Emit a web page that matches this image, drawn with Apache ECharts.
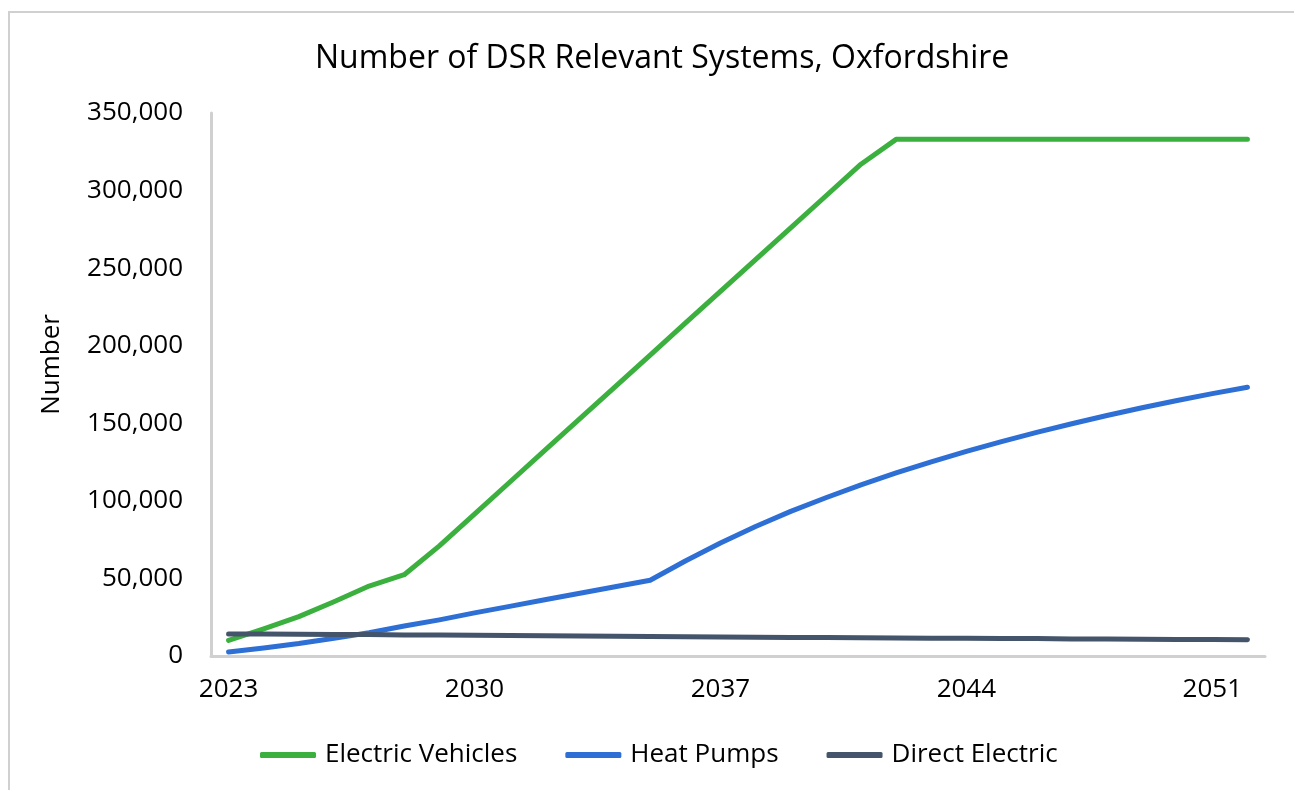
<!DOCTYPE html>
<html>
<head>
<meta charset="utf-8">
<style>
  html, body { margin: 0; padding: 0; background: #fff; }
  #chart-container { width: 1294px; height: 790px; }
</style>
<script src="https://cdn.jsdelivr.net/npm/echarts@6/dist/echarts.min.js"></script>
</head>
<body>
<div id="chart-container"></div>
<script>
var dom = document.getElementById("chart-container");
var myChart = echarts.init(dom, null, { renderer: "canvas" });

const years = [
  "2023", "2024", "2025", "2026", "2027", "2028", "2029", "2030", "2031", "2032",
  "2033", "2034", "2035", "2036", "2037", "2038", "2039", "2040", "2041", "2042",
  "2043", "2044", "2045", "2046", "2047", "2048", "2049", "2050", "2051", "2052",
];

const electricVehicles = [
  10000, 17500, 25400, 35000, 45100, 52400, 71000, 91500, 112000, 132500,
  153000, 173500, 194000, 214500, 235000, 255500, 276000, 296500, 317000, 333000,
  333000, 333000, 333000, 333000, 333000, 333000, 333000, 333000, 333000, 333000,
];

const heatPumps = [
  2600, 5200, 8000, 11500, 15000, 19300, 23300, 27800, 32000, 36300,
  40400, 44600, 48800, 61200, 72800, 83500, 93200, 102000, 110300, 118000,
  125200, 131900, 138200, 144100, 149700, 155000, 160000, 164700, 169100, 173200,
];

const directElectric = [
  14200, 14100, 14000, 13900, 13800, 13600, 13500, 13300, 13200, 13000,
  12900, 12700, 12600, 12400, 12300, 12100, 12000, 11900, 11800, 11600,
  11500, 11400, 11300, 11200, 11000, 10900, 10800, 10700, 10600, 10500,
];

const FONT = "Open Sans";

function lineSeries(name, data, color) {
  return {
    name: name,
    type: "line",
    data: data,
    symbol: "none",
    smooth: false,
    lineStyle: { width: 5, color: color, cap: "round", join: "round" },
    itemStyle: { color: color },
  };
}

var option = {
  backgroundColor: "#ffffff",
  animation: false,
  title: {
    text: "Number of DSR Relevant Systems, Oxfordshire",
    left: 310,
    top: 38,
    textStyle: { fontFamily: FONT, fontSize: 32, fontWeight: "normal", color: "#000" },
  },
  graphic: [
    {
      type: "rect",
      shape: { x: 9, y: 12, width: 1300, height: 800 },
      style: { fill: null, stroke: "#d0d0d0", lineWidth: 2 },
      silent: true,
    },
  ],
  legend: {
    bottom: 17,
    left: 255,
    icon: "roundRect",
    itemWidth: 56,
    itemHeight: 6,
    itemGap: 48,
    textStyle: { fontFamily: FONT, fontSize: 26, color: "#000", padding: [0, 0, 0, 4] },
    data: ["Electric Vehicles", "Heat Pumps", "Direct Electric"],
  },
  grid: { left: 211, right: 29, top: 113, bottom: 134, outerBoundsMode: "none" },
  xAxis: {
    type: "category",
    data: years,
    boundaryGap: true,
    axisLine: { show: true, lineStyle: { color: "#d0d0d0", width: 3 } },
    axisTick: { show: false },
    axisLabel: {
      interval: 6,
      margin: 21,
      fontFamily: FONT,
      fontSize: 26,
      color: "#000",
    },
    splitLine: { show: false },
  },
  yAxis: {
    type: "value",
    name: "Number",
    nameLocation: "middle",
    nameGap: 146,
    nameRotate: 90,
    nameTextStyle: { fontFamily: FONT, fontSize: 26, color: "#000", padding: [0, 0, 0, 40] },
    min: 0,
    max: 350000,
    interval: 50000,
    axisLine: { show: true, lineStyle: { color: "#d0d0d0", width: 3 } },
    axisTick: { show: false },
    splitLine: { show: false },
    axisLabel: {
      margin: 28,
      fontFamily: FONT,
      fontSize: 26,
      color: "#000",
      formatter: function (value) {
        return value.toLocaleString("en-US");
      },
    },
  },
  series: [
    lineSeries("Electric Vehicles", electricVehicles, "#3BB03F"),
    lineSeries("Heat Pumps", heatPumps, "#2E6FD5"),
    lineSeries("Direct Electric", directElectric, "#44546A"),
  ],
};

myChart.setOption(option);
window.addEventListener("resize", myChart.resize);
</script>
</body>
</html>
